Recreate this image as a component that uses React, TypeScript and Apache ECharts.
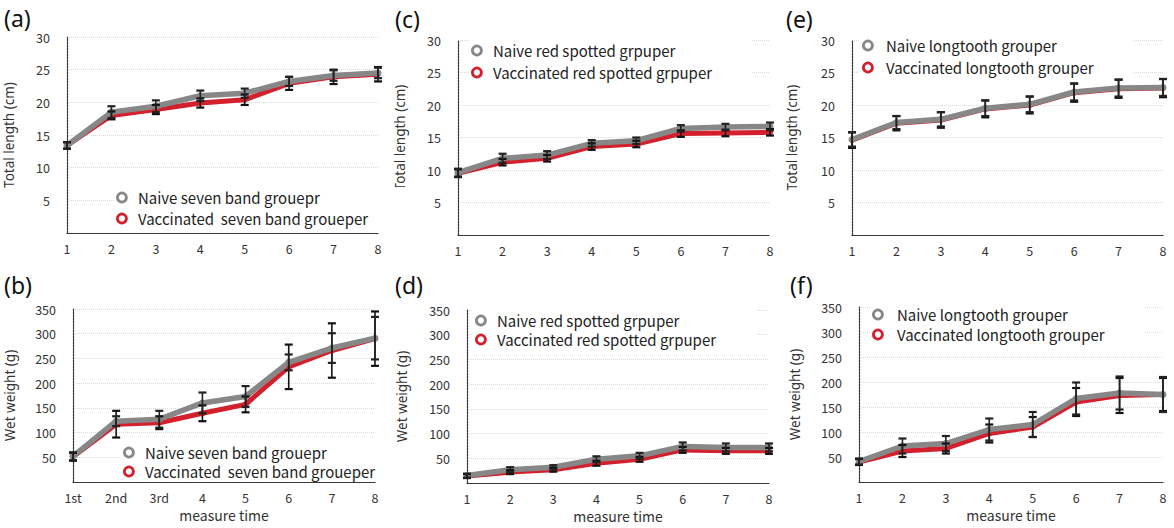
import React, { useEffect, useRef } from "react";
import * as echarts from "echarts";

// ---------- data ----------
const timeLabels = ["1", "2", "3", "4", "5", "6", "7", "8"];
const timeLabelsOrdinal = ["1st", "2nd", "3rd", "4", "5", "6", "7", "8"];

const lengthMax = 30;
const lengthStep = 5;
const weightMax = 350;
const weightStep = 50;

// (a) seven band grouper, total length (cm)
const sevenBandLengthNaive = [13.4, 18.5, 19.4, 21.0, 21.4, 23.2, 24.1, 24.5];
const sevenBandLengthNaiveErr = [0.5, 0.9, 0.9, 0.8, 0.7, 0.7, 0.8, 0.8];
const sevenBandLengthVacc = [13.4, 18.0, 18.9, 19.9, 20.4, 22.9, 23.9, 24.3];
const sevenBandLengthVaccErr = [0.5, 0.6, 0.7, 0.7, 0.8, 1.0, 1.1, 1.1];

// (c) red spotted grouper, total length (cm)
const redSpottedLengthNaive = [9.6, 11.8, 12.3, 14.1, 14.5, 16.4, 16.6, 16.7];
const redSpottedLengthNaiveErr = [0.6, 0.7, 0.6, 0.5, 0.5, 0.5, 0.5, 0.6];
const redSpottedLengthVacc = [9.5, 11.2, 11.8, 13.6, 14.0, 15.6, 15.7, 15.8];
const redSpottedLengthVaccErr = [0.6, 0.5, 0.5, 0.5, 0.5, 0.5, 0.5, 0.5];

// (e) longtooth grouper, total length (cm)
const longtoothLengthNaive = [14.7, 17.3, 17.8, 19.5, 20.1, 22.0, 22.6, 22.7];
const longtoothLengthNaiveErr = [1.1, 1.0, 1.1, 1.2, 1.2, 1.3, 1.3, 1.3];
const longtoothLengthVacc = [14.6, 17.2, 17.7, 19.4, 20.0, 21.9, 22.5, 22.6];
const longtoothLengthVaccErr = [1.2, 1.1, 1.2, 1.3, 1.3, 1.4, 1.4, 1.4];

// (b) seven band grouper, wet weight (g)
const sevenBandWeightNaive = [52, 123, 127, 160, 173, 242, 271, 291];
const sevenBandWeightNaiveErr = [8, 10, 17, 21, 21, 16, 30, 43];
const sevenBandWeightVacc = [51, 117, 120, 139, 157, 233, 266, 290];
const sevenBandWeightVaccErr = [8, 27, 13, 16, 16, 45, 55, 55];

// (d) red spotted grouper, wet weight (g)
const redSpottedWeightNaive = [15, 27, 32, 48, 55, 74, 72, 72];
const redSpottedWeightNaiveErr = [4, 5, 4, 6, 6, 8, 8, 8];
const redSpottedWeightVacc = [14, 22, 27, 40, 48, 67, 65, 65];
const redSpottedWeightVaccErr = [4, 4, 4, 5, 5, 6, 6, 6];

// (f) longtooth grouper, wet weight (g)
const longtoothWeightNaive = [41, 72, 77, 105, 115, 167, 178, 175];
const longtoothWeightNaiveErr = [6, 15, 15, 22, 25, 32, 33, 35];
const longtoothWeightVacc = [40, 62, 67, 97, 110, 160, 173, 175];
const longtoothWeightVaccErr = [6, 12, 10, 18, 20, 28, 35, 33];

const sevenBandNames = ["Naive seven band grouepr", "Vaccinated  seven band groueper"];
const redSpottedNames = ["Naive red spotted grpuper", "Vaccinated red spotted grpuper"];
const longtoothNames = ["Naive longtooth grouper", "Vaccinated longtooth grouper"];

// ---------- styling ----------
const FONT = "'Noto Sans CJK KR', 'Noto Sans', sans-serif";
const NAME_FONT = "'Noto Sans', sans-serif";
const GREY = "#878787";
const RED = "#d3202c";

type Panel = {
  tag: string;
  tagPos: [number, number];
  grid: { left: number; top: number; width: number; height: number };
  cats: string[];
  yMax: number;
  yStep: number;
  yName: string;
  yNameGap: number;
  xName: string;
  names: string[];
  naive: number[];
  naiveErr: number[];
  vacc: number[];
  vaccErr: number[];
  legend: { left: number; top: number; itemWidth: number; itemGap: number };
};

const panels: Panel[] = [
  {
    tag: "(a)", tagPos: [4, 19],
    grid: { left: 67, top: 37, width: 311, height: 196 },
    cats: timeLabels, yMax: lengthMax, yStep: lengthStep,
    yName: "Total length (cm)", yNameGap: 51, xName: "",
    names: sevenBandNames,
    naive: sevenBandLengthNaive, naiveErr: sevenBandLengthNaiveErr,
    vacc: sevenBandLengthVacc, vaccErr: sevenBandLengthVaccErr,
    legend: { left: 114, top: 187, itemWidth: 22, itemGap: 4 },
  },
  {
    tag: "(c)", tagPos: [395, 20],
    grid: { left: 458, top: 40, width: 312, height: 195 },
    cats: timeLabels, yMax: lengthMax, yStep: lengthStep,
    yName: "Total length (cm)", yNameGap: 51, xName: "",
    names: redSpottedNames,
    naive: redSpottedLengthNaive, naiveErr: redSpottedLengthNaiveErr,
    vacc: redSpottedLengthVacc, vaccErr: redSpottedLengthVaccErr,
    legend: { left: 469, top: 40, itemWidth: 22, itemGap: 5 },
  },
  {
    tag: "(e)", tagPos: [786, 20],
    grid: { left: 852, top: 40, width: 311, height: 195 },
    cats: timeLabels, yMax: lengthMax, yStep: lengthStep,
    yName: "Total length (cm)", yNameGap: 53, xName: "",
    names: longtoothNames,
    naive: longtoothLengthNaive, naiveErr: longtoothLengthNaiveErr,
    vacc: longtoothLengthVacc, vaccErr: longtoothLengthVaccErr,
    legend: { left: 860, top: 35, itemWidth: 26, itemGap: 5 },
  },
  {
    tag: "(b)", tagPos: [4, 286],
    grid: { left: 73, top: 309, width: 302, height: 173 },
    cats: timeLabelsOrdinal, yMax: weightMax, yStep: weightStep,
    yName: "Wet weight (g)", yNameGap: 56, xName: "measure time",
    names: sevenBandNames,
    naive: sevenBandWeightNaive, naiveErr: sevenBandWeightNaiveErr,
    vacc: sevenBandWeightVacc, vaccErr: sevenBandWeightVaccErr,
    legend: { left: 121, top: 442, itemWidth: 22, itemGap: 2 },
  },
  {
    tag: "(d)", tagPos: [395, 286],
    grid: { left: 467, top: 310, width: 302, height: 173 },
    cats: timeLabels, yMax: weightMax, yStep: weightStep,
    yName: "Wet weight (g)", yNameGap: 58, xName: "measure time",
    names: redSpottedNames,
    naive: redSpottedWeightNaive, naiveErr: redSpottedWeightNaiveErr,
    vacc: redSpottedWeightVacc, vaccErr: redSpottedWeightVaccErr,
    legend: { left: 473, top: 310, itemWidth: 22, itemGap: 2 },
  },
  {
    tag: "(f)", tagPos: [790, 286],
    grid: { left: 859, top: 307, width: 304, height: 175 },
    cats: timeLabels, yMax: weightMax, yStep: weightStep,
    yName: "Wet weight (g)", yNameGap: 57, xName: "measure time",
    names: longtoothNames,
    naive: longtoothWeightNaive, naiveErr: longtoothWeightNaiveErr,
    vacc: longtoothWeightVacc, vaccErr: longtoothWeightVaccErr,
    legend: { left: 870, top: 304, itemWidth: 28, itemGap: 3 },
  },
];

function errorRenderer(color: string) {
  return (params: any, api: any) => {
    const x = api.value(0);
    const lo = api.coord([x, api.value(1)]);
    const hi = api.coord([x, api.value(2)]);
    const w = 4;
    const style = { stroke: color, lineWidth: 1.6 };
    return {
      type: "group",
      children: [
        { type: "line", shape: { x1: lo[0], y1: lo[1], x2: hi[0], y2: hi[1] }, style },
        { type: "line", shape: { x1: lo[0] - w, y1: lo[1], x2: lo[0] + w, y2: lo[1] }, style: { ...style, lineWidth: 2.2 } },
        { type: "line", shape: { x1: hi[0] - w, y1: hi[1], x2: hi[0] + w, y2: hi[1] }, style: { ...style, lineWidth: 2.2 } },
      ],
    };
  };
}

function buildOption() {
  const grid: any[] = [];
  const xAxis: any[] = [];
  const yAxis: any[] = [];
  const series: any[] = [];
  const legend: any[] = [];
  const graphic: any[] = [];

  panels.forEach((p, i) => {
    grid.push({ ...p.grid, containLabel: false });
    xAxis.push({
      type: "category",
      gridIndex: i,
      data: p.cats,
      boundaryGap: false,
      name: p.xName,
      nameLocation: "middle",
      nameGap: 26,
      nameTextStyle: { fontFamily: FONT, fontSize: 14, color: "#333" },
      axisLine: { show: true, lineStyle: { color: "#333", type: [2, 1], width: 1.2 } },
      axisTick: { show: false },
      axisLabel: { fontFamily: FONT, fontSize: 12.5, color: "#333", margin: 9 },
      splitLine: { show: false },
    });
    yAxis.push({
      type: "value",
      gridIndex: i,
      min: 0,
      max: p.yMax,
      interval: p.yStep,
      name: p.yName,
      nameLocation: "middle",
      nameRotate: 90,
      nameGap: p.yNameGap,
      nameTextStyle: { fontFamily: NAME_FONT, fontSize: 13.5, color: "#333" },
      axisLine: { show: true, lineStyle: { color: "#333", type: [2, 1], width: 1.2 } },
      axisTick: { show: false },
      axisLabel: {
        fontFamily: FONT, fontSize: 12.5, color: "#333", margin: 17,
        formatter: (v: number) => (v === 0 ? "" : String(v)),
      },
      splitLine: { show: true, lineStyle: { color: "#d9d9d9", type: "dotted", width: 1 } },
    });

    const [naiveName, vaccName] = p.names;
    series.push({
      type: "line", name: vaccName, xAxisIndex: i, yAxisIndex: i,
      data: p.vacc, symbol: "circle", symbolSize: 6, z: 2,
      lineStyle: { color: RED, width: 5 }, itemStyle: { color: RED },
    });
    series.push({
      type: "line", name: naiveName, xAxisIndex: i, yAxisIndex: i,
      data: p.naive, symbol: "circle", symbolSize: 7, z: 3,
      lineStyle: { color: GREY, width: 5.5 }, itemStyle: { color: GREY },
    });
    series.push({
      type: "custom", name: vaccName + " error", xAxisIndex: i, yAxisIndex: i, z: 5,
      renderItem: errorRenderer("#111"),
      encode: { x: 0, y: [1, 2] },
      data: p.vacc.map((v, k) => [k, v - p.vaccErr[k], v + p.vaccErr[k]]),
    });
    series.push({
      type: "custom", name: naiveName + " error", xAxisIndex: i, yAxisIndex: i, z: 5,
      renderItem: errorRenderer("#222"),
      encode: { x: 0, y: [1, 2] },
      data: p.naive.map((v, k) => [k, v - p.naiveErr[k], v + p.naiveErr[k]]),
    });

    legend.push({
      left: p.legend.left,
      top: p.legend.top,
      orient: "vertical",
      selectedMode: false,
      itemWidth: p.legend.itemWidth,
      itemHeight: 9,
      itemGap: p.legend.itemGap,
      padding: [2, 40, 2, 2],
      backgroundColor: "#fff",
      textStyle: { fontFamily: FONT, fontSize: 15, lineHeight: 17, color: "#222" },
      data: [
        { name: naiveName, icon: "circle", itemStyle: { color: "#fff", borderColor: GREY, borderWidth: 2.8 } },
        { name: vaccName, icon: "circle", itemStyle: { color: "#fff", borderColor: RED, borderWidth: 2.8 } },
      ],
    });

    graphic.push({
      type: "text",
      left: p.tagPos[0],
      top: p.tagPos[1] - 13,
      style: { text: p.tag, font: `23px ${NAME_FONT}`, fill: "#111" },
    });
  });

  return {
    animation: false,
    backgroundColor: "#fff",
    grid, xAxis, yAxis, series, legend, graphic,
  };
}

export default function App() {
  const ref = useRef<HTMLDivElement>(null);
  useEffect(() => {
    if (!ref.current) return;
    const chart = echarts.init(ref.current, undefined, { renderer: "svg" });
    chart.setOption(buildOption() as any);
    return () => chart.dispose();
  }, []);
  return (
    <div
      ref={ref}
      style={{ position: "absolute", left: 0, top: 0, width: 1174, height: 528 }}
    />
  );
}
